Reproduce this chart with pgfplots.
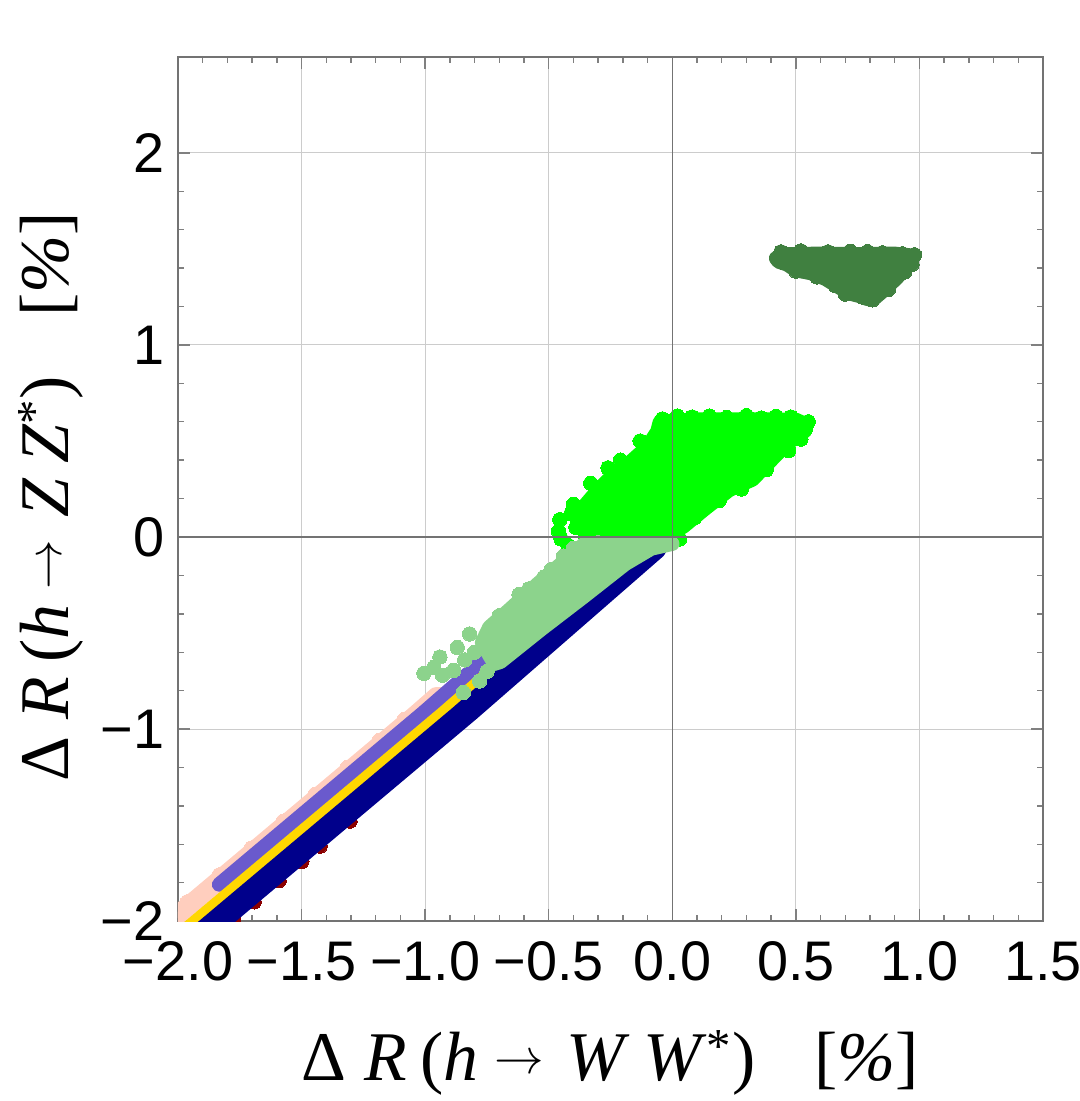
\documentclass[border=0pt]{standalone}
\usepackage{fontspec}
\setmainfont{Liberation Serif}
\newfontfamily\ticksf{Liberation Sans}
\usepackage{pgfplots}
\pgfplotsset{compat=1.18}

\definecolor{cSalmon}{RGB}{255,206,190}
\definecolor{cPurple}{RGB}{106,90,205}
\definecolor{cGold}{RGB}{255,215,0}
\definecolor{cNavy}{RGB}{0,0,139}
\definecolor{cDRed}{RGB}{139,0,0}
\definecolor{cLGreen}{RGB}{140,211,140}
\definecolor{cGreen}{RGB}{0,255,0}
\definecolor{cDGreen}{RGB}{64,128,64}

% a dense cloud: outline of the region covered by point centres, stroked with the point diameter
\pgfplotsset{
  cloud/.style={draw=#1, fill=#1, line width=7.2bp, line join=round, mark=none},
  dots/.style={only marks, color=#1, mark=*, mark size=3.6bp, mark options={solid, line width=0bp, fill=#1, draw=#1}},
}
\newcommand{\arr}{\hspace{0.22em}\raisebox{3.5bp}{\fontsize{26}{26}\selectfont$\rightarrow$}\hspace{0.32em}}

\begin{document}
\begin{tikzpicture}
\begin{axis}[
  name=ax,
  scale only axis, width=432.5bp, height=432bp,
  xmin=-2, xmax=1.5, ymin=-2, ymax=2.5,
  xtick={-2,-1.5,-1,-0.5,0,0.5,1,1.5},
  xticklabels={−2.0,−1.5,−1.0,−0.5,0.0,0.5,1.0,1.5},
  ytick={-2,-1,0,1,2},
  yticklabels={−2,−1,0,1,2},
  minor x tick num=4, minor y tick num=4,
  tick align=inside,
  major tick length=6bp, minor tick length=3.2bp,
  tick style={black!50, line width=0.7bp},
  axis line style={black!55, line width=1bp},
  grid=major, major grid style={black!20, line width=0.5bp},
  ticklabel style={font=\ticksf\fontsize{28}{30}\selectfont},
  xticklabel style={anchor=base, yshift=-29.5bp, inner sep=0pt},
  yticklabel style={anchor=east, xshift=-6.5bp, inner sep=0pt},
  label style={font=\fontsize{35}{40}\selectfont},
  xlabel={Δ\hspace{0.25em}\textit{R}\hspace{0.2em}(\textit{h}\arr\textit{W}\hspace{0.2em}\textit{W}\textsuperscript{*})\hspace{0.85em}[\textit{\%}]},
  ylabel={Δ\hspace{0.25em}\textit{R}\hspace{0.2em}(\textit{h}\arr\textit{Z}\hspace{0.2em}\textit{Z}\textsuperscript{*})\hspace{0.85em}[\textit{\%}]},
  xlabel style={at={(axis description cs:0.5,0)}, anchor=base, yshift=-79.5bp},
  ylabel style={at={(axis description cs:-0.127,0.491)}, anchor=base},
  clip=true, clip marker paths=true,
]

% pale pink band
\addplot[cloud=cSalmon] coordinates {(-2.137,-2.10) (-2.107,-2.10) (-1.015,-0.918) (-0.928,-0.82) (-0.958,-0.82) (-1.045,-0.918)} -- cycle;
\addplot[dots=cSalmon] coordinates {
(-1.962,-1.90) (-1.833,-1.76) (-1.703,-1.62) (-1.574,-1.48) (-1.445,-1.34) (-1.315,-1.20) (-1.186,-1.06) (-1.084,-0.95)
};

% purple band
\addplot[cloud=cPurple] coordinates {(-1.834,-1.81) (-1.749,-1.81) (-0.925,-0.918) (-0.642,-0.60) (-0.727,-0.60) (-1.010,-0.918)} -- cycle;

% gold band
\addplot[cloud=cGold] coordinates {(-2.017,-2.10) (-1.957,-2.10) (-0.865,-0.918) (-0.297,-0.28) (-0.357,-0.28) (-0.925,-0.918)} -- cycle;

% dark red band, mostly hidden
\addplot[dots=cDRed] coordinates {(-1.775,-1.99) (-1.692,-1.90) (-1.591,-1.79) (-1.499,-1.69) (-1.425,-1.61) (-1.304,-1.48)};

% navy band
\addplot[cloud=cNavy] coordinates {(-1.962,-2.10) (-1.902,-2.10) (-0.810,-0.918) (-0.054,-0.07) (-0.114,-0.07) (-0.870,-0.918)} -- cycle;

% bright green cloud
\addplot[cloud=cGreen] coordinates {
(-0.05,0.60) (0.10,0.612) (0.30,0.612) (0.50,0.610) (0.535,0.59) (0.535,0.55) (0.50,0.525)
(0.43,0.44) (0.325,0.30) (0.23,0.245) (0.135,0.15) (0.045,0.055) (0.0,0.02) (-0.20,0.03)
(-0.36,0.05) (-0.37,0.14) (-0.30,0.245) (-0.235,0.33) (-0.17,0.39) (-0.10,0.47) (-0.06,0.55)} -- cycle;
\addplot[dots=cGreen] coordinates {
(-0.455,0.09) (-0.46,0.03) (-0.45,-0.01) (-0.42,-0.045) (-0.41,0.12) (-0.39,0.05) (-0.35,0.005)
(-0.30,0.02) (-0.27,0.01) (-0.23,0.02) (0.03,-0.01) (0.54,0.565) (0.55,0.60)
(-0.04,0.615) (0.02,0.63) (0.08,0.625) (0.15,0.63) (0.22,0.622) (0.30,0.632) (0.36,0.62)
(0.42,0.628) (0.48,0.625) (-0.26,0.36) (-0.33,0.28) (-0.13,0.50) (-0.21,0.40) (-0.40,0.17)
(0.47,0.45) (0.38,0.35) (0.28,0.25) (0.19,0.19) (0.09,0.10) (0.52,0.51)
};

% light green cloud
\addplot[cloud=cLGreen] coordinates {
(0.0,-0.035) (-0.355,-0.035) (-0.45,-0.14) (-0.545,-0.245) (-0.66,-0.38) (-0.74,-0.47)
(-0.77,-0.55) (-0.72,-0.66) (-0.695,-0.65) (-0.53,-0.48) (-0.358,-0.31) (-0.19,-0.14) (-0.085,-0.06)} -- cycle;
\addplot[dots=cLGreen] coordinates {
(-1.005,-0.71) (-0.965,-0.68) (-0.93,-0.72) (-0.885,-0.695) (-0.87,-0.575) (-0.82,-0.505)
(-0.845,-0.81) (-0.94,-0.625) (-0.84,-0.64) (-0.80,-0.60) (-0.78,-0.75) (-0.75,-0.70)
(-0.40,-0.06) (-0.49,-0.17) (-0.58,-0.27) (-0.62,-0.30) (-0.70,-0.41) (-0.44,-0.10)
(-0.52,-0.21) (-0.30,-0.03)
};

% dark green cloud
\addplot[cloud=cDGreen] coordinates {
(0.42,1.452) (0.45,1.472) (0.60,1.475) (0.75,1.472) (0.90,1.475) (0.97,1.465) (0.97,1.44)
(0.945,1.40) (0.905,1.345) (0.86,1.29) (0.815,1.24) (0.79,1.24) (0.76,1.255) (0.715,1.27)
(0.67,1.305) (0.62,1.345) (0.56,1.375) (0.50,1.39) (0.465,1.42) (0.43,1.435)} -- cycle;
\addplot[dots=cDGreen] coordinates {
(0.44,1.485) (0.52,1.49) (0.63,1.485) (0.72,1.488) (0.79,1.486) (0.85,1.48) (0.93,1.475)
(0.98,1.47) (0.81,1.235) (0.77,1.25) (0.585,1.355) (0.66,1.31) (0.50,1.385) (0.45,1.43)
(0.70,1.265) (0.875,1.29) (0.94,1.38) (0.97,1.42)
};

% axes through the origin
\addplot[black!55, line width=0.6bp, mark=none] coordinates {(0,-2) (0,2.5)};
\addplot[black!55, line width=0.6bp, mark=none] coordinates {(-2,0) (1.5,0)};
\end{axis}
\pgfresetboundingbox
\useasboundingbox (ax.south west) ++(-89bp,-90bp) rectangle ++(540bp,550.5bp);
\end{tikzpicture}
\end{document}
